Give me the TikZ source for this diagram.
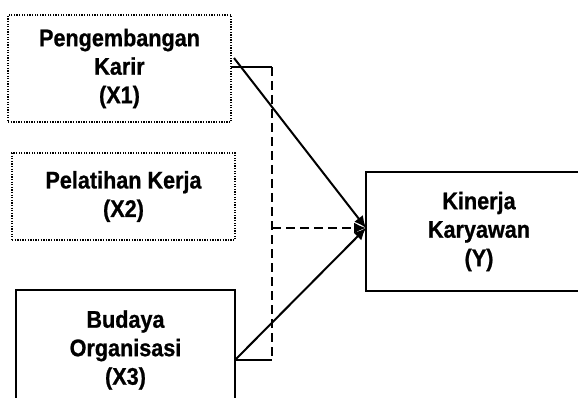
\documentclass[tikz,border=0pt]{standalone}
\usepackage{fontspec}
\newfontfamily\lblfont{Liberation Sans Bold}[FakeStretch=0.9,FakeBold=0.8]
\usetikzlibrary{arrows.meta}
\begin{document}
\begin{tikzpicture}[x=1pt,y=-1pt,
  box/.style={draw=black, rectangle, align=center, inner sep=0pt,
    font=\lblfont\fontsize{24}{28.5}\selectfont},
  dotbox/.style={box, line width=1.5pt, dash pattern=on 1.3pt off 1.3pt},
  solidbox/.style={box, line width=2pt},
  conn/.style={line width=2pt},
  dconn/.style={line width=2pt, dash pattern=on 9pt off 5pt},
  tip/.style={-{Latex[length=12pt,width=11pt]}}]
\useasboundingbox (0,0) rectangle (578,398);
\clip (0,0) rectangle (578,398);
\fill[white] (0,0) rectangle (578,398);
\node[dotbox, minimum width=223pt, minimum height=107pt] (x1) at (119.5,68.5) {Pengembangan\\Karir\\(X1)};
\node[dotbox, minimum width=223pt, minimum height=87pt] (x2) at (123.5,196.5) {Pelatihan Kerja\\(X2)};
\node[solidbox, minimum width=219pt, minimum height=120pt] (x3) at (125.5,350) {Budaya\\Organisasi\\(X3)};
\node[solidbox, minimum width=226pt, minimum height=119pt] (y) at (479,231.5) {Kinerja\\Karyawan\\(Y)};
\coordinate (a1) at (231,67);
\coordinate (j1) at (272,67);
\coordinate (j3) at (272,360);
\coordinate (a3) at (235,360);
\coordinate (jm) at (272,228);
\coordinate (s1) at (234,58);
\coordinate (t) at (366,228);
\draw[conn] (a1) -- (j1);
\draw[dconn] (j1) -- (j3);
\draw[conn] (a3) -- (j3);
\draw[dconn, tip] (jm) -- (t);
\draw[conn, tip] (s1) -- (t);
\draw[conn, tip] (a3) -- (t);
\end{tikzpicture}
\end{document}
